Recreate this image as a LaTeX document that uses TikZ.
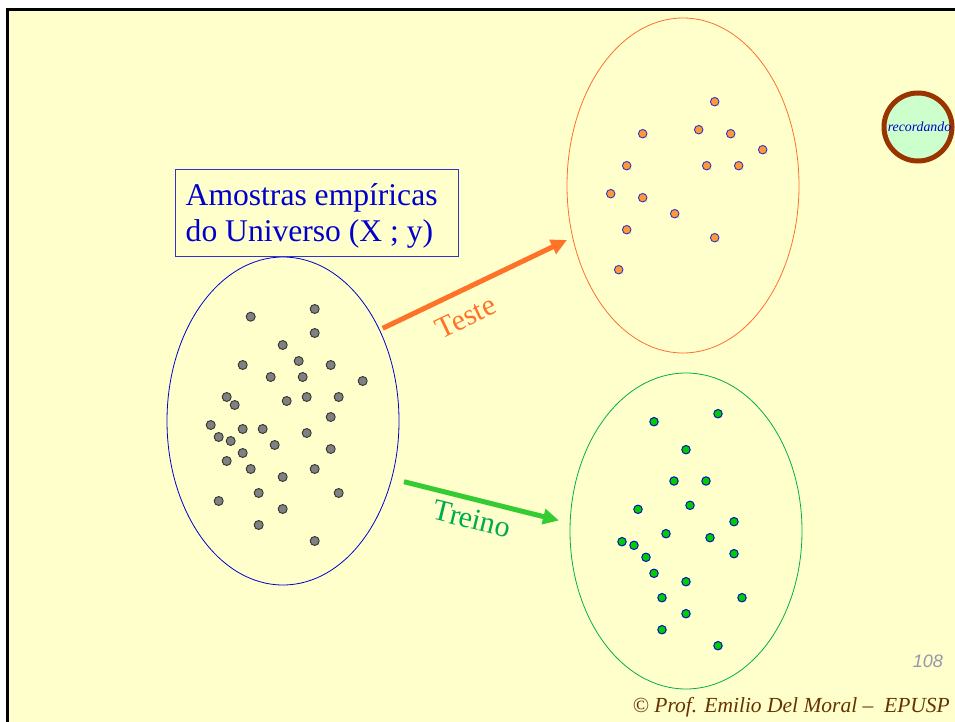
\documentclass[tikz,border=0pt]{standalone}
\usepackage{fontspec}
\setmainfont{Liberation Serif}
\newfontfamily\numfont{Liberation Sans}
\usetikzlibrary{arrows.meta}
\definecolor{bgyellow}{RGB}{255,255,204}
\definecolor{dotgray}{RGB}{128,128,128}
\definecolor{dotorange}{RGB}{255,153,51}
\definecolor{dotgreen}{RGB}{0,204,0}
\definecolor{rimblue}{RGB}{51,51,204}
\definecolor{ellblue}{RGB}{0,0,204}
\definecolor{ellorange}{RGB}{255,110,50}
\definecolor{ellgreen}{RGB}{0,175,80}
\definecolor{arrorange}{RGB}{255,115,40}
\definecolor{arrgreen}{RGB}{51,204,51}
\definecolor{txtgreen}{RGB}{0,170,80}
\definecolor{txtblue}{RGB}{0,0,204}
\definecolor{brownring}{RGB}{153,51,0}
\definecolor{paleg}{RGB}{204,255,204}
\definecolor{footbrown}{RGB}{102,51,0}
\definecolor{numgray}{RGB}{150,150,170}
\tikzset{
  graydot/.style={circle,draw=black!80,fill=dotgray,line width=0.9pt,inner sep=0pt,minimum size=9pt},
  orangedot/.style={circle,draw=rimblue,fill=dotorange,line width=0.9pt,inner sep=0pt,minimum size=8.5pt},
  greendot/.style={circle,draw=ellblue,fill=dotgreen,line width=0.9pt,inner sep=0pt,minimum size=8.5pt},
  bigarrow/.style={line width=5pt,-{Triangle[length=16pt,width=15pt]}},
  boxtext/.style={anchor=base west,inner sep=0pt,text=txtblue,font=\fontsize{31.6}{36.7}\selectfont},
}
\begin{document}
\begin{tikzpicture}[x=1pt,y=-1pt]
\useasboundingbox (0,0) rectangle (955,722);
\fill[white] (0,0) rectangle (955,722);
\fill[bgyellow] (7,9) rectangle (955,722);
\draw[black,line width=3pt] (7.5,722) -- (7.5,9.5) -- (955,9.5);

% ellipses
\draw[ellblue,line width=0.8pt] (283,421) ellipse [x radius=116, y radius=164];
\draw[ellorange,line width=0.8pt] (683,185.5) ellipse [x radius=116, y radius=167.5];
\draw[ellgreen,line width=0.8pt] (686,531) ellipse [x radius=116, y radius=158];

% label box
\node[draw=rimblue,line width=0.8pt,minimum width=283pt,minimum height=87pt,inner sep=0pt]
  (lbl) at (316.5,212.5) {};
\node[boxtext] (lbl1) at (185.5,205) {Amostras empíricas};
\node[boxtext] (lbl2) at (185.5,241.7) {do Universo (X ; y)};

% gray dots
\foreach \x/\y [count=\i] in {250.7/316.7,314.7/309,314.7/333,282.7/345,242.7/365,298.7/361,330.7/365,
  270.7/377,302.7/377,362.7/381,226.7/397,234.7/405,286.7/401,306.7/397,338.7/397,330.7/417,
  210.7/425,242.7/429,262.7/429,306.7/433,218.7/437,230.7/441,274.7/445,330.7/449,242.7/453,
  226.7/461,250.7/469,314.7/469,282.7/477,258.7/493,338.7/493,218.7/501,282.7/509,258.7/525,314.7/541}
  \node[graydot] (g\i) at (\x,\y) {};

% orange dots
\foreach \x/\y [count=\i] in {714.7/101.7,642.7/133.7,698.7/129.7,730.7/133.7,762.7/149.7,626.7/165.7,
  706.7/165.7,738.7/165.7,610.7/193.7,642.7/197.7,674.7/213.7,626.7/229.7,714.7/237.7,618.7/269.7}
  \node[orangedot] (o\i) at (\x,\y) {};

% green dots
\foreach \x/\y [count=\i] in {654/421.7,718/413.7,686/449.7,674/481,706/481,638/509.3,690/505.3,
  734/521.7,666/533.7,710/537.7,622/541.7,634/545.3,646/557.3,734/553.7,654/573.3,686/581.7,
  662/597.7,742/597.7,686/613.7,662/629.7,718/645.7}
  \node[greendot] (v\i) at (\x,\y) {};

% arrows
\coordinate (ta) at (382.7,328.3);
\coordinate (tb) at (567,240);
\coordinate (ra) at (404,481.7);
\coordinate (rb) at (559,520.5);
\draw[bigarrow,arrorange] (ta) -- (tb);
\draw[bigarrow,arrgreen] (ra) -- (rb);
\node[text=arrorange,rotate=25.6,font=\fontsize{30}{30}\selectfont] (teste) at (465.5,317) {Teste};
\node[text=txtgreen,rotate=-14,font=\fontsize{30}{30}\selectfont] (treino) at (472,519) {Treino};

% recordando
\node[circle,draw=brownring,line width=5pt,fill=paleg,minimum size=68pt,inner sep=0pt] (rec) at (918,127) {};
\node[text=txtblue,font=\fontsize{13.8}{14}\selectfont\itshape] (rect) at (919.5,127) {recordando};

% footer
\node[anchor=base east,text=numgray,font=\numfont\itshape\fontsize{18}{18}\selectfont,inner sep=0pt] (num) at (943,667) {108};
\node[anchor=base east,text=footbrown,font=\itshape\fontsize{21.5}{22}\selectfont,inner sep=0pt] (foot) at (950,712) {© Prof. Emilio Del Moral –\ \ EPUSP};
\end{tikzpicture}
\end{document}
